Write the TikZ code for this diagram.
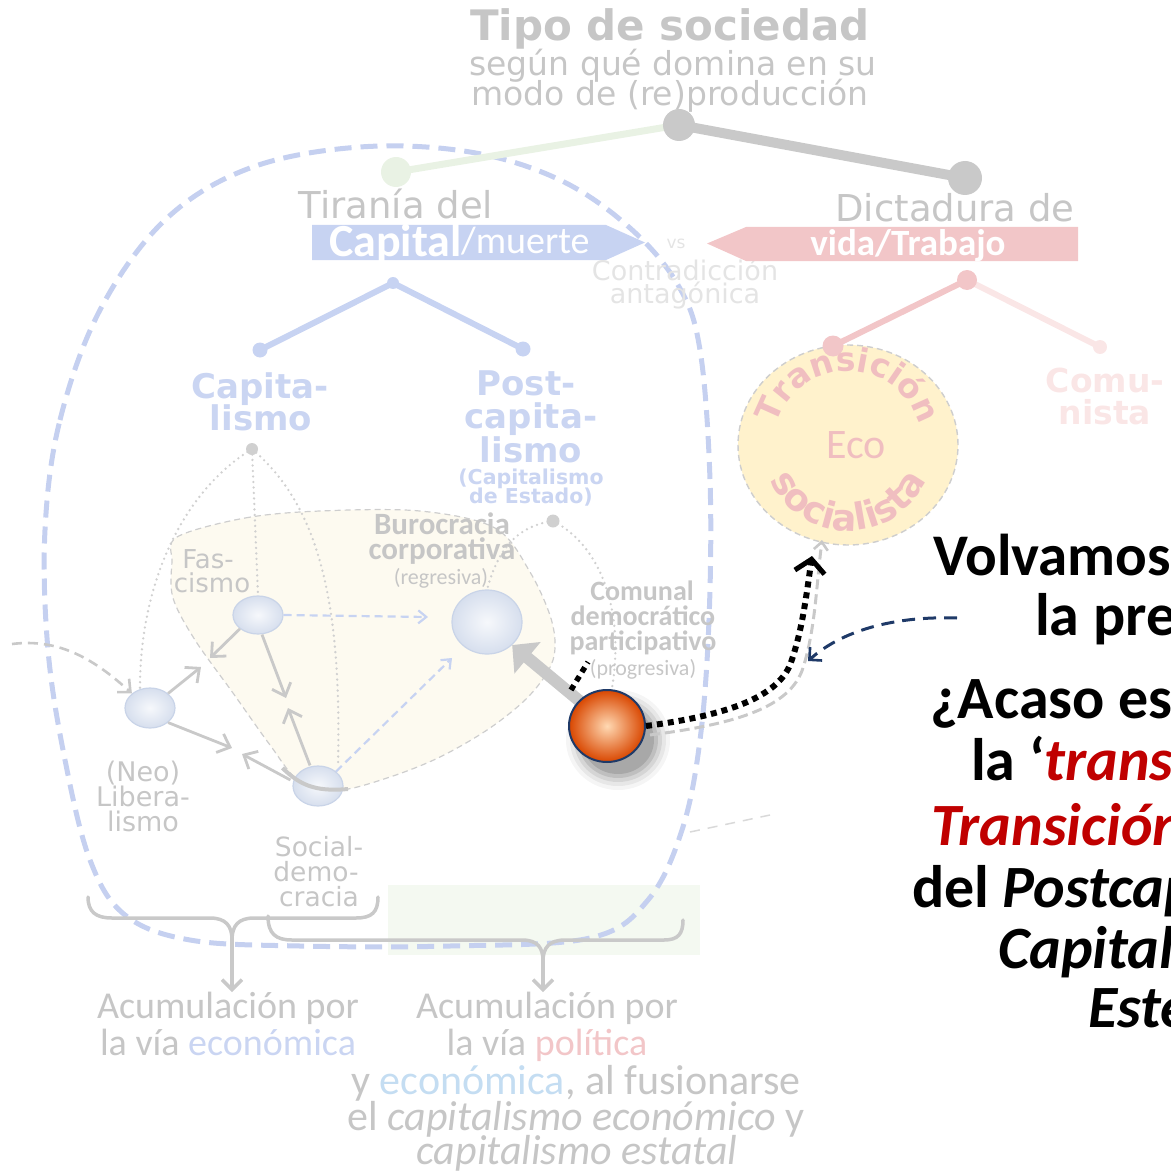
\documentclass[tikz,border=0pt]{standalone}
\usepackage{fontspec}
\setmainfont{Carlito}
\newfontfamily\verd{DejaVu Sans}
\usetikzlibrary{arrows.meta,decorations.text,shapes.geometric}
\newcommand\fsz[1]{\fontsize{#1}{#1}\selectfont}
\definecolor{gtext}{HTML}{C6C6C6}
\definecolor{gline}{HTML}{C9C9C9}
\definecolor{gdot}{HTML}{D0D0D0}
\definecolor{blueL}{HTML}{C7D3F2}
\definecolor{blueT}{HTML}{CAD5F2}
\definecolor{redL}{HTML}{F2C6C8}
\definecolor{pinkT}{HTML}{F0BEC0}
\definecolor{faintpink}{HTML}{FAE6E6}
\definecolor{dashblue}{HTML}{C5D0F0}
\definecolor{beige}{HTML}{FDFAF0}
\definecolor{yel}{HTML}{FFF2CC}
\definecolor{navy}{HTML}{1F3A68}
\definecolor{darkred}{HTML}{C00000}
\definecolor{greenL}{HTML}{E9F2E4}
\definecolor{skyT}{HTML}{C4DDF2}
\definecolor{nodeB}{HTML}{C9D4E8}
\definecolor{contra}{HTML}{E4E4E4}
\begin{document}
\begin{tikzpicture}[x=1pt,y=-1pt,
  gt/.style={text=gtext, inner sep=0pt, anchor=base},
  bt/.style={text=blueT, inner sep=0pt, anchor=base, font=\verd\bfseries\fsz{34}},
  bnode/.style={ellipse, draw=nodeB, line width=1.2pt, inner color=white!60!nodeB!40, outer color=nodeB!75, inner sep=0pt},
  garrow/.style={draw=gline, line width=2.8pt, -{Straight Barb[length=11pt,width=20pt,line width=2.8pt]}},
  bdash/.style={draw=blueL, line width=2.2pt, dash pattern=on 8pt off 5pt, -{Straight Barb[length=8pt,width=13pt,line width=2.2pt]}},
  gdotted/.style={draw=gdot, line width=2.6pt, line cap=round, dash pattern=on 0pt off 5.5pt},
  brace/.style={draw=gline, line width=3.5pt, line cap=round},
  rt/.style={text=black, inner sep=0pt, anchor=base west, font=\bfseries\fsz{60}}
]
\useasboundingbox (0,0) rectangle (1170,1174);
\clip (0,0) rectangle (1170,1174);

% faint background shapes
\fill[greenL!50] (388,885) rectangle (700,955);
\fill[beige] plot[smooth cycle, tension=0.55] coordinates {(177,537) (245,518) (320,511) (420,511) (495,528) (530,572) (552,622) (553,660) (530,695) (490,728) (440,757) (390,777) (340,790) (300,782) (270,745) (233,693) (195,640) (173,598) (172,562)};
\draw[gline!90, line width=1.2pt, dash pattern=on 6pt off 4pt] plot[smooth cycle, tension=0.55] coordinates {(177,537) (245,518) (320,511) (420,511) (495,528) (530,572) (552,622) (553,660) (530,695) (490,728) (440,757) (390,777) (340,790) (300,782) (270,745) (233,693) (195,640) (173,598) (172,562)};

% big dashed loop
\draw[dashblue, line width=5pt, dash pattern=on 17pt off 9pt] plot[smooth cycle, tension=0.6] coordinates {(45,530) (60,420) (100,310) (165,220) (250,168) (360,147) (470,152) (560,180) (630,228) (678,285) (700,350) (710,480) (709,620) (700,740) (682,830) (648,900) (590,938) (450,946) (300,946) (190,940) (125,915) (90,860) (65,760) (48,650)};

% top title
\node[gt, font=\verd\bfseries\fsz{42}] (title) at (670,41) {Tipo de sociedad};
\node[gt, font=\verd\fsz{33}] (sub1) at (673,76) {según qué domina en su};
\node[gt, font=\verd\fsz{33}] (sub2) at (670,106) {modo de (re)producción};

% top tree
\coordinate (top) at (679,125);
\coordinate (gleft) at (396,172);
\coordinate (gright) at (965,178);
\draw[greenL, line width=7pt, line cap=round] (top) -- (gleft);
\fill[greenL] (gleft) circle (15);
\draw[gline, line width=10pt, line cap=round] (top) -- (gright);
\fill[gline] (top) circle (16);
\fill[gline] (gright) circle (17);

% left header
\node[gt, font=\verd\fsz{37}] (tir) at (396,219) {Tiranía del};
\fill[blueL] (312,225) -- (606,225) -- (645,242.5) -- (606,260) -- (312,260) -- cycle;
\node[text=white, inner sep=0pt, anchor=base west, font=\bfseries\fsz{46}] (cap) at (329,256) {Capital};
\node[text=white, inner sep=0pt, anchor=base west, font=\fsz{38}] (mue) at (461,253) {/muerte};
\node[text=contra, inner sep=0pt, anchor=base, font=\verd\fsz{17}] (vs) at (676,248) {vs};
\node[text=contra, inner sep=0pt, anchor=base, font=\verd\fsz{27}] (con1) at (685,280) {Contradicción};
\node[text=contra, inner sep=0pt, anchor=base, font=\verd\fsz{27}] (con2) at (685,303) {antagónica};

% right header
\node[gt, font=\verd\fsz{37}] (dic) at (955,222) {Dictadura de};
\fill[redL] (707,243.5) -- (746,227) -- (1078,227) -- (1078,261) -- (746,261) -- cycle;
\node[text=white, inner sep=0pt, anchor=base, font=\bfseries\fsz{37}] (vida) at (908,255) {vida/Trabajo};

% blue sub-tree
\coordinate (bt0) at (393,283);
\coordinate (bt1) at (260,350);
\coordinate (bt2) at (523,349);
\draw[blueL, line width=6pt, line cap=round] (bt1) -- (bt0) -- (bt2);
\fill[blueL] (bt0) circle (6) (bt1) circle (7.5) (bt2) circle (7.5);
\node[bt] (capa) at (260,398) {Capita-};
\node[bt] (capb) at (261,430) {lismo};
\node[bt] (posa) at (526,395) {Post-};
\node[bt] (posb) at (531,428) {capita-};
\node[bt] (posc) at (531,462) {lismo};
\node[bt, font=\verd\bfseries\fsz{20.5}] (posd) at (531,484) {(Capitalismo};
\node[bt, font=\verd\bfseries\fsz{20.5}] (pose) at (531,503) {de Estado)};

% red sub-tree
\coordinate (rt0) at (967,280);
\coordinate (rt1) at (833,346);
\coordinate (rt2) at (1100,347);
\draw[faintpink, line width=6pt, line cap=round] (rt0) -- (rt2);
\fill[faintpink] (rt2) circle (7);
\node[text=faintpink, inner sep=0pt, anchor=base, font=\verd\bfseries\fsz{33}] (comu1) at (1105,392) {Comu-};
\node[text=faintpink, inner sep=0pt, anchor=base, font=\verd\bfseries\fsz{33}] (comu2) at (1105,424) {nista};

% eco-socialist circle
\node[ellipse, minimum width=220pt, minimum height=200pt, fill=yel, draw=gline!90, line width=1.4pt, dash pattern=on 6pt off 4pt] (eco) at (848,445) {};
\draw[redL, line width=6pt, line cap=round] (rt0) -- (rt1);
\fill[redL] (rt0) circle (10) (rt1) circle (10.5);
\node[text=pinkT, inner sep=0pt, font=\fsz{42}] (ecot) at (856,445) {Eco};
\begin{scope}[shift={(848,445)}, y=1pt]
\path[decorate, decoration={text along path, text align=center, text color=pinkT,
  text={|\verd\bfseries\fsz{33}|Transición}}] (176:74) arc (176:4:74);
\path[decorate, decoration={text along path, text align=center, text color=pinkT,
  text={|\verd\bfseries\fsz{37}|socialista}}] (186:86) arc (186:354:86);
\end{scope}

% dotted links from Capitalismo
\coordinate (cdot) at (252,449);
\coordinate (pdot) at (553,521);
\draw[gdotted] (cdot) .. controls (185,490) and (140,580) .. (140,688);
\draw[gdotted] (cdot) -- (258,595);
\draw[gdotted] (cdot) .. controls (318,505) and (342,600) .. (338,765);
\draw[gdotted] (pdot) .. controls (525,525) and (500,540) .. (487,590);
\draw[gdotted] (pdot) .. controls (600,545) and (625,610) .. (612,688);
\fill[gdot] (cdot) circle (6);
\fill[gdot] (pdot) circle (6.5);

% labels inside
\node[gt, font=\verd\fsz{26}] (fas1) at (208,568) {Fas-};
\node[gt, font=\verd\fsz{26}] (fas2) at (212,592) {cismo};
\node[gt, font=\bfseries\fsz{31}] (bur1) at (442,534) {Burocracia};
\node[gt, font=\bfseries\fsz{31}] (bur2) at (442,559) {corporativa};
\node[gt, font=\fsz{22}] (bur3) at (441,584) {(regresiva)};
\node[gt, font=\bfseries\fsz{28}] (com1) at (642,600) {Comunal};
\node[gt, font=\bfseries\fsz{28}] (com2) at (643,625) {democrático};
\node[gt, font=\bfseries\fsz{28}] (com3) at (643,650) {participativo};
\node[gt, font=\fsz{22}] (com4) at (643,675) {(progresiva)};
\node[gt, font=\verd\fsz{27}] (neo1) at (143,781) {(Neo)};
\node[gt, font=\verd\fsz{27}] (neo2) at (143,806) {Libera-};
\node[gt, font=\verd\fsz{27}] (neo3) at (143,831) {lismo};
\node[gt, font=\verd\fsz{26.5}] (soc1) at (319,856) {Social-};
\node[gt, font=\verd\fsz{26.5}] (soc2) at (316,881) {demo-};
\node[gt, font=\verd\fsz{26.5}] (soc3) at (319,906) {cracia};

% small nodes
\node[bnode, minimum width=50pt, minimum height=38pt] (nfas) at (258,615) {};
\node[bnode, minimum width=50pt, minimum height=40pt] (nneo) at (150,708) {};
\node[bnode, minimum width=50pt, minimum height=40pt] (nsoc) at (318,786) {};
\node[bnode, minimum width=70pt, minimum height=64pt] (nbur) at (487,622) {};

% arrows between nodes
\coordinate (m1a) at (201,667);
\coordinate (m1b) at (210,658);
\coordinate (m2a) at (286,698);
\coordinate (m2b) at (288,708);
\coordinate (m3a) at (232,748);
\coordinate (m3b) at (242,754);
\draw[garrow] (nneo.north east) -- (m1a);
\draw[garrow] (nfas.south west) -- (m1b);
\draw[garrow] (nfas.south) ++(4,0) -- (m2a);
\draw[garrow] (nsoc.north) ++(-8,0) -- (m2b);
\draw[garrow] (nneo.south east) -- (m3a);
\draw[garrow] (nsoc.west) ++(-2,-6) -- (m3b);
\draw[bdash] (nfas.east) -- (428,617);
\draw[bdash] (nsoc.north east) -- (452,658);
\draw[gline, line width=4pt] (nsoc.west) ++(-10,-18) .. controls (300,785) and (315,792) .. (348,789);

% gray dashed arrow from left
\coordinate (lstart) at (12,644);
\draw[gline, line width=2.6pt, dash pattern=on 10pt off 6pt, -{Straight Barb[length=10pt,width=18pt,line width=2.6pt]}] (lstart) .. controls (60,638) and (95,660) .. (nneo.north west);
\draw[gline!70, line width=1.5pt, dash pattern=on 10pt off 8pt] (690,832) -- (770,815);

% the ball
\coordinate (ball) at (607,726);
\foreach \s/\o in {16/0.04,12/0.06,8/0.08,4/0.1,0/0.12}
  \fill[black, opacity=\o] (618,740) ellipse ({36+\s} and {34+\s});
\draw[gline, line width=12pt, -{Triangle[length=20pt,width=40pt]}] (588,708) -- (nbur.south east);
\draw[black, line width=5.5pt, dash pattern=on 5.5pt off 5pt] (571,690) -- (588,662);
\draw[gline, line width=3pt, dash pattern=on 10pt off 5pt, -{Straight Barb[length=8pt,width=14pt,line width=2.6pt]}] (650,735) .. controls (735,724) and (790,708) .. (803,668) .. controls (815,630) and (816,590) .. (822,540);
\node[ellipse, minimum width=76pt, minimum height=72pt, draw=navy, line width=2pt, inner color=orange!30!white, outer color=orange!65!red!85!black] (orb) at (ball) {};
\draw[black, line width=6pt, dash pattern=on 6pt off 5pt, -{Straight Barb[length=13pt,width=30pt,line width=5pt]}] (orb.east) .. controls (720,716) and (775,700) .. (790,665) .. controls (802,632) and (806,598) .. (812,556);

% navy dashed arrow
\coordinate (nstart) at (957,618);
\draw[navy, line width=3pt, dash pattern=on 13pt off 8pt, -{Straight Barb[length=9pt,width=18pt,line width=2.6pt]}] (nstart) .. controls (900,616) and (845,628) .. (808,661);

% braces
\coordinate (b1tip) at (232,940);
\coordinate (b2tip) at (543,961);
\draw[brace] (88,897) .. controls (88,912) and (96,918) .. (112,918) -- (210,918) .. controls (226,918) and (232,926) .. (b1tip) .. controls (232,926) and (238,918) .. (254,918) -- (356,918) .. controls (372,918) and (378,912) .. (378,897);
\draw[brace] (268,916) .. controls (268,934) and (276,940) .. (292,940) -- (522,940) .. controls (538,940) and (543,948) .. (b2tip) .. controls (543,948) and (549,940) .. (565,940) -- (664,940) .. controls (678,940) and (683,934) .. (683,920);
\coordinate (a1) at (232,992);
\coordinate (a2) at (543,992);
\draw[gline, line width=3.5pt, -{Straight Barb[length=10pt,width=20pt,line width=3.5pt]}] (b1tip) -- (a1);
\draw[gline, line width=3.5pt, -{Straight Barb[length=10pt,width=20pt,line width=3.5pt]}] (b2tip) -- (a2);

% bottom texts
\node[gt, font=\fsz{38}] (ac1) at (228,1018) {Acumulación por};
\node[gt, font=\fsz{38}] (ac2) at (228,1055) {la vía \textcolor{blueT}{económica}};
\node[gt, font=\fsz{38}] (ac3) at (547,1018) {Acumulación por};
\node[gt, font=\fsz{38}] (ac4) at (547,1055) {la vía \textcolor{redL}{política}};
\node[gt, font=\fsz{42}] (ac5) at (576,1094) {y \textcolor{skyT}{económica}, al fusionarse};
\node[gt, font=\fsz{42}] (ac6) at (576,1130) {el \textit{capitalismo económico} y};
\node[gt, font=\itshape\fsz{42}] (ac7) at (577,1164) {capitalismo estatal};

% right black text
\node[rt, font=\bfseries\fsz{59}] (r1) at (933,575) {Volvamos};
\node[rt] (r2) at (1035,635) {la pre};
\node[rt] (r3) at (930,718) {¿Acaso es};
\node[rt] (r4) at (971,780) {la ‘\textcolor{darkred}{\textit{trans}}};
\node[rt, text=darkred, font=\bfseries\itshape\fsz{60}] (r5) at (931,845) {Transición};
\node[rt] (r6) at (912,907) {del \textit{Postcap}};
\node[rt, font=\bfseries\itshape\fsz{60}] (r7) at (998,968) {Capital};
\node[rt, font=\bfseries\itshape\fsz{60}] (r8) at (1088,1027) {Este};
\end{tikzpicture}
\end{document}
